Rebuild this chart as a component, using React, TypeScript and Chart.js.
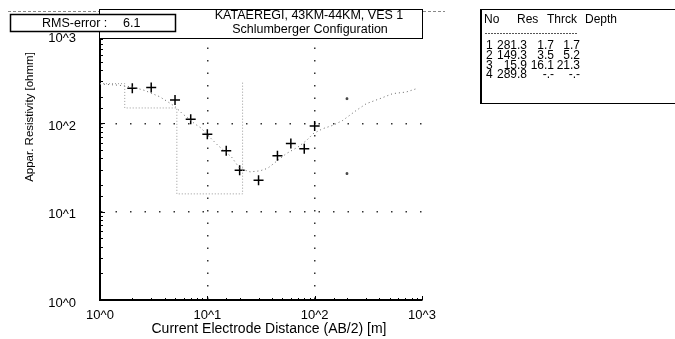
import React, { useEffect, useRef } from "react";
import Chart from "chart.js/auto";

// measured apparent resistivity (Schlumberger, AB/2 in m)
const abHalf = [2, 3, 5, 7, 10, 15, 20, 30, 45, 60, 80, 100];
const appRes = [250, 255, 184, 111, 75, 49, 29.5, 22.7, 43, 59, 51.6, 93];

// calculated (fitted) curve
const fitAB = [1, 1.5, 2, 2.6, 3.6, 4.2, 5, 5.8, 7.7, 8.8, 9.8, 12.6, 16.8, 20, 25, 31, 36.5, 54.5, 70, 84, 97, 119, 148, 183, 244, 303, 404, 534, 711, 900];
const fitRes = [279, 270, 258, 236, 200, 178, 155, 130, 98, 88, 76, 56, 41.6, 31, 28.2, 29, 31, 45.5, 54, 64, 76.5, 87, 95, 108, 140, 167, 190, 217, 226, 248];

// masked / extra marks
const maskedAB = [200, 200];
const maskedRes = [190, 27];

// layered model
const layerNo = [1, 2, 3, 4];
const layerRes = [281.3, 149.3, 15.9, 289.8];
const layerThick = [1.7, 3.5, 16.1];
const layerDepth = [1.7, 5.2, 21.3];

const axisTicks = ["10^0", "10^1", "10^2", "10^3"];
const titleLines = ["KATAEREGI, 43KM-44KM, VES 1", "Schlumberger Configuration"];
const rmsError = "6.1";
const xTitle = "Current Electrode Distance (AB/2) [m]";
const yTitle = "Appar. Resistivity [ohmm]";
const tableHeader = ["No", "Res", "Thrck", "Depth"];

const FONT = "'Liberation Sans', Arial, sans-serif";

const isDecade = (v: number) => {
  const l = Math.log10(v);
  return Math.abs(l - Math.round(l)) < 1e-9;
};
const decadeLabel = (v: number) => (isDecade(v) ? axisTicks[Math.round(Math.log10(v))] ?? "" : "");

const overlay = {
  id: "overlay",
  afterDraw(chart: any) {
    const { ctx, chartArea: a, scales } = chart;
    const xs = scales.x, ys = scales.y;
    ctx.save();
    ctx.strokeStyle = "#000";
    ctx.lineWidth = 1;
    // inner minor ticks
    ys.ticks.forEach((t: any) => {
      const py = Math.round(ys.getPixelForValue(t.value)) + 0.5;
      const len = isDecade(t.value) ? 5 : 3;
      ctx.beginPath(); ctx.moveTo(a.left, py); ctx.lineTo(a.left + len, py); ctx.stroke();
    });
    xs.ticks.forEach((t: any) => {
      const px = Math.round(xs.getPixelForValue(t.value)) + 0.5;
      const len = isDecade(t.value) ? 4 : 2;
      ctx.beginPath(); ctx.moveTo(px, a.bottom); ctx.lineTo(px, a.bottom - len); ctx.stroke();
    });

    // axis titles
    ctx.fillStyle = "#000";
    ctx.font = `14px ${FONT}`;
    ctx.textAlign = "center";
    ctx.textBaseline = "middle";
    ctx.fillText(xTitle, 269, 329);
    ctx.save();
    ctx.translate(30, 117);
    ctx.rotate(-Math.PI / 2);
    ctx.font = `11.5px ${FONT}`;
    ctx.fillText(yTitle, 0, 0);
    ctx.restore();

    // top dashed line
    ctx.strokeStyle = "#888";
    ctx.setLineDash([3, 2]);
    ctx.beginPath(); ctx.moveTo(8, 11.5); ctx.lineTo(445, 11.5); ctx.stroke();
    ctx.setLineDash([]);

    // title box
    ctx.fillStyle = "#fff";
    ctx.fillRect(99, 9, 324, 30);
    ctx.strokeStyle = "#000";
    ctx.lineWidth = 1;
    ctx.strokeRect(99.5, 9.5, 323, 29);
    ctx.fillStyle = "#000";
    ctx.font = `12.5px ${FONT}`;
    ctx.fillText(titleLines[0], 309, 16);
    ctx.fillText(titleLines[1], 310, 30);

    // RMS box
    ctx.fillStyle = "#fff";
    ctx.fillRect(10, 14, 166, 18);
    ctx.lineWidth = 1.5;
    ctx.strokeRect(10.5, 14.5, 165, 17);
    ctx.fillStyle = "#000";
    ctx.textAlign = "left";
    ctx.font = `12.5px ${FONT}`;
    ctx.fillText("RMS-error :", 42, 24);
    ctx.fillText(rmsError, 123, 24);

    // layer table
    ctx.lineWidth = 1;
    ctx.strokeRect(480.5, 9.5, 200, 94);
    ctx.lineWidth = 2;
    ctx.beginPath(); ctx.moveTo(481, 9); ctx.lineTo(481, 104); ctx.stroke();
    ctx.font = `12px ${FONT}`;
    ctx.textAlign = "left";
    const hx = [484, 517, 547, 585];
    tableHeader.forEach((h, i) => ctx.fillText(h, hx[i], 20));
    ctx.strokeStyle = "#555";
    ctx.lineWidth = 1;
    ctx.setLineDash([2, 1]);
    ctx.beginPath(); ctx.moveTo(485, 33.5); ctx.lineTo(578, 33.5); ctx.stroke();
    ctx.setLineDash([]);
    layerNo.forEach((n, i) => {
      const y = 46 + i * 9.7;
      ctx.textAlign = "left";
      ctx.fillText(String(n), 486, y);
      ctx.textAlign = "right";
      ctx.fillText(layerRes[i].toFixed(1), 527, y);
      ctx.fillText(i < layerThick.length ? layerThick[i].toFixed(1) : "-.-", 554, y);
      ctx.fillText(i < layerDepth.length ? layerDepth[i].toFixed(1) : "-.-", 580, y);
    });
    ctx.restore();
  },
};

export default function App() {
  const ref = useRef<HTMLCanvasElement>(null);
  useEffect(() => {
    if (!ref.current) return;
    const gridColor = (c: any) => {
      const v = c.tick?.value;
      return v && isDecade(v) && v > 1 && v < 1000 ? "#333" : "rgba(0,0,0,0)";
    };
    const chart = new Chart(ref.current, {
      type: "scatter",
      data: {
        datasets: [
          {
            label: "Model",
            data: [1, ...layerDepth].map((x, i) => ({ x, y: layerRes[i] })),
            showLine: true,
            stepped: "before",
            borderColor: "#999",
            borderWidth: 1,
            borderDash: [1, 2],
            pointRadius: 0,
          },
          {
            label: "Calculated",
            data: fitAB.map((x, i) => ({ x, y: fitRes[i] })),
            showLine: true,
            borderColor: "#666",
            borderWidth: 1,
            borderDash: [1, 3],
            pointRadius: 0,
            tension: 0,
          },
          {
            label: "Masked",
            data: maskedAB.map((x, i) => ({ x, y: maskedRes[i] })),
            pointStyle: "rect",
            pointRadius: 1.2,
            backgroundColor: "#444",
            borderColor: "#444",
          },
          {
            label: "Measured",
            data: abHalf.map((x, i) => ({ x, y: appRes[i] })),
            pointStyle: "cross",
            pointRadius: 5,
            borderWidth: 1.5,
            borderColor: "#000",
            backgroundColor: "#000",
          },
        ],
      },
      options: {
        animation: false,
        responsive: false,
        devicePixelRatio: 1,
        layout: { padding: { left: 0, top: 35, right: 253, bottom: 0 } },
        plugins: { legend: { display: false }, tooltip: { enabled: false } },
        scales: {
          x: {
            type: "logarithmic",
            min: 1,
            max: 1000,
            afterFit: (s: any) => { s.height = 39; },
            grid: { color: gridColor, drawTicks: false, lineWidth: 1.5 },
            border: { display: true, color: "#000", width: 2, dash: [1.5, 11] },
            ticks: {
              autoSkip: false,
              maxRotation: 0,
              padding: 8,
              color: "#000",
              font: { family: FONT, size: 13 },
              callback: (v: any) => decadeLabel(Number(v)),
            },
          },
          y: {
            type: "logarithmic",
            min: 1,
            max: 1000,
            afterFit: (s: any) => { s.width = 100; },
            grid: { color: gridColor, drawTicks: false, lineWidth: 1.5 },
            border: { display: true, color: "#000", width: 2, dash: [1.5, 13] },
            ticks: {
              autoSkip: false,
              padding: 24,
              labelOffset: 3,
              color: "#000",
              font: { family: FONT, size: 13 },
              callback: (v: any) => decadeLabel(Number(v)),
            },
          },
        },
      },
      plugins: [overlay],
    } as any);
    return () => chart.destroy();
  }, []);
  return (
    <div style={{ position: "fixed", left: 0, top: 0, width: 675, height: 339, background: "#fff" }}>
      <canvas ref={ref} width={675} height={339} style={{ display: "block", width: 675, height: 339 }} />
    </div>
  );
}
